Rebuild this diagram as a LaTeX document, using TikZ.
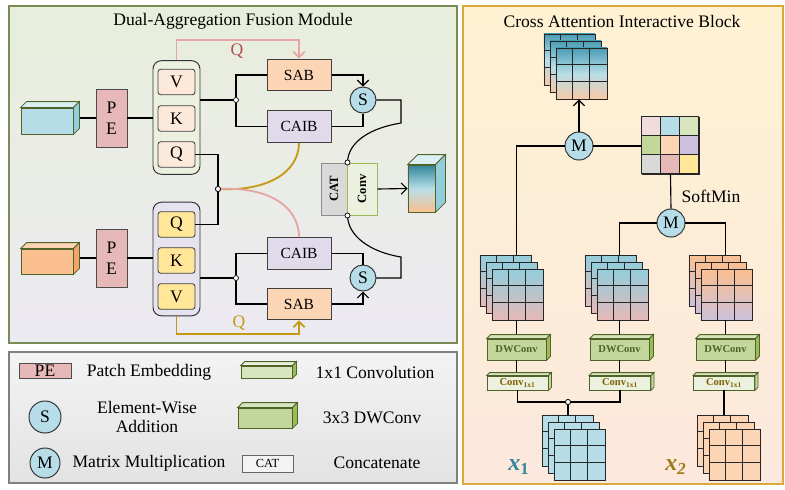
\documentclass[tikz,border=0pt]{standalone}
\usepackage{fontspec}
\setmainfont{Liberation Serif}
\usetikzlibrary{calc,positioning,arrows.meta}
\definecolor{lpTop}{HTML}{E8EEDB}
\definecolor{lpBot}{HTML}{ECEAF2}
\definecolor{lpLine}{HTML}{7A8C55}
\definecolor{rpTop}{HTML}{FEF2D3}
\definecolor{rpBot}{HTML}{FCE8DC}
\definecolor{rpLine}{HTML}{D9AA3A}
\definecolor{lgTop}{HTML}{F3F3F3}
\definecolor{lgBot}{HTML}{E3E3E3}
\definecolor{pefill}{HTML}{E6B9B8}
\definecolor{grpgreen}{HTML}{EBF1DE}
\definecolor{grplav}{HTML}{E6E2EE}
\definecolor{qkvpeach}{HTML}{FDE9D9}
\definecolor{qkvyellow}{HTML}{FFE699}
\definecolor{sabfill}{HTML}{FCD5B5}
\definecolor{caibfill}{HTML}{E0DAEB}
\definecolor{opblue}{HTML}{B7DEE8}
\definecolor{pinkln}{HTML}{E6A6A3}
\definecolor{qred}{HTML}{B0504E}
\definecolor{goldln}{HTML}{C59A12}
\definecolor{catfill}{HTML}{D9D9D9}
\definecolor{convfill}{HTML}{EBF1DE}
\definecolor{convline}{HTML}{9BBB59}
\definecolor{cubeline}{HTML}{4F6228}
\definecolor{cubeblue}{HTML}{B7DEE8}
\definecolor{cbT}{HTML}{DAEEF3}
\definecolor{cbS}{HTML}{92CDDC}
\definecolor{cubeorange}{HTML}{FAC090}
\definecolor{coT}{HTML}{FCD5B5}
\definecolor{coS}{HTML}{F2A56A}
\definecolor{dwfill}{HTML}{C3D69B}
\definecolor{dwT}{HTML}{D7E4BD}
\definecolor{dwS}{HTML}{9BBB59}
\definecolor{cvfill}{HTML}{EBF1DE}
\definecolor{cvT}{HTML}{D7E4BD}
\definecolor{cvS}{HTML}{C3D69B}
\definecolor{dwtext}{HTML}{4F6228}
\definecolor{cvtext}{HTML}{7F6000}
\definecolor{tealD}{HTML}{4A9DB5}
\definecolor{blueL}{HTML}{B7DEE8}
\definecolor{blueM}{HTML}{92CDDC}
\definecolor{peachL}{HTML}{F9C9A6}
\definecolor{peachM}{HTML}{FCD5B5}
\definecolor{pinkM}{HTML}{E6B9B8}
\definecolor{orangeM}{HTML}{FAC090}
\definecolor{lavM}{HTML}{CCC0DA}
\definecolor{greyM}{HTML}{D9D9D9}
\definecolor{greenM}{HTML}{C3D69B}
\definecolor{greenL}{HTML}{D7E4BD}
\definecolor{pinkL}{HTML}{F2DCDB}
\definecolor{yellowM}{HTML}{FFE699}
\definecolor{xone}{HTML}{31859C}
\definecolor{xtwo}{HTML}{9C7A1A}
\begin{document}
\begin{tikzpicture}[x=0.025cm,y=-0.025cm,
  font=\fontsize{12.5}{14}\selectfont,
  line width=0.8pt,
  >={Straight Barb[length=4pt,width=8pt]},
  blk/.style={draw=black!75,line width=0.7pt,minimum width=1.6cm,minimum height=0.79cm,inner sep=0pt,font=\fontsize{11}{13}\selectfont},
  qkv/.style={draw=black!75,line width=0.6pt,rounded corners=2pt,minimum width=0.925cm,minimum height=0.64cm,inner sep=0pt},
  grp/.style={draw=black!80,line width=0.7pt,rounded corners=6pt,minimum width=1.175cm,minimum height=2.84cm},
  pe/.style={draw=black!70,fill=pefill,line width=0.7pt,minimum width=0.775cm,minimum height=1.45cm,align=center,inner sep=0pt,font=\fontsize{12.5}{15}\selectfont},
  op/.style={circle,draw=black!80,fill=opblue,line width=0.7pt,minimum size=0.65cm,inner sep=0pt},
  jn/.style={circle,draw=black,fill=white,line width=0.5pt,minimum size=3.6pt,inner sep=0pt},
  cub/.style={draw=cubeline,line width=0.6pt,inner sep=0pt},
  cell/.style={draw=black!85,line width=0.6pt,minimum size=1.275cm,inner sep=0pt},
  gridln/.style={draw=black!85,line width=0.6pt},
  dwc/.style={cub,fill=dwfill,minimum width=1.475cm,minimum height=0.525cm,font=\fontsize{7.5}{9}\selectfont\bfseries,text=dwtext},
  cvc/.style={cub,fill=cvfill,minimum width=1.525cm,minimum height=0.35cm,font=\fontsize{7.5}{9}\selectfont\bfseries,text=cvtext},
  pinkarr/.style={draw=pinkln,line width=1.3pt},
  goldarr/.style={draw=goldln,line width=1.3pt}]
\useasboundingbox (0,0) rectangle (785,489);
\filldraw[top color=lpTop,bottom color=lpBot,draw=lpLine,line width=1pt] (9,6) rectangle (457,343);
\filldraw[top color=rpTop,bottom color=rpBot,draw=rpLine,line width=1pt] (463,6) rectangle (783,484);
\filldraw[top color=lgTop,bottom color=lgBot,draw=black!50,line width=0.8pt] (9,352) rectangle (457,483);

\node (tA) at (233,21) {Dual-Aggregation Fusion Module};
\node (tB) at (622,21) {Cross Attention Interactive Block};

\node[cub,fill=cubeblue,minimum width=1.3cm,minimum height=0.65cm] (inA) at (47,121) {};
\node[pe] (peA) at (111.5,118) {P\\E};
\node[grp,fill=grpgreen] (grpA) at (176.5,117.5) {};
\node[qkv,fill=qkvpeach] (vA) at (176.5,82) {V};
\node[qkv,fill=qkvpeach] (kA) at (176.5,118.5) {K};
\node[qkv,fill=qkvpeach] (qA) at (176.5,154.5) {Q};
\node[jn] (jA) at (236,100) {};
\node[blk,fill=sabfill] (sabA) at (299,75) {SAB};
\node[blk,fill=caibfill] (caibA) at (299,126.5) {CAIB};
\node[op] (sA) at (363,100) {S};
\coordinate (bendA) at (401,123);

\node[cub,fill=cubeorange,minimum width=1.3cm,minimum height=0.625cm] (inB) at (47,261.5) {};
\node[pe] (peB) at (111.5,258) {P\\E};
\node[grp,fill=grplav] (grpB) at (176.5,259) {};
\node[qkv,fill=qkvyellow] (qB) at (176.5,224.5) {Q};
\node[qkv,fill=qkvyellow] (kB) at (176.5,260.5) {K};
\node[qkv,fill=qkvyellow] (vB) at (176.5,296.5) {V};
\node[jn] (jB) at (236,278) {};
\node[blk,fill=caibfill] (caibB) at (299,253.5) {CAIB};
\node[blk,fill=sabfill] (sabB) at (299,304) {SAB};
\node[op] (sB) at (363,278) {S};
\coordinate (bendB) at (401,257);

\node[draw=black!45,fill=catfill,line width=0.7pt,minimum width=0.65cm,minimum height=1.3cm,inner sep=0pt,font=\fontsize{9}{10}\selectfont\bfseries] (cat) at (334,189) {\rotatebox{90}{CAT}};
\node[draw=convline,fill=convfill,line width=0.7pt,minimum width=0.75cm,minimum height=1.3cm,inner sep=0pt,font=\fontsize{9}{10}\selectfont\bfseries] (cv) at (362,189) {\rotatebox{90}{Conv}};
\node[cub,top color=xone,bottom color=orangeM,middle color=blueL,minimum width=0.675cm,minimum height=1.175cm] (out) at (421.5,188.5) {};
\node[jn] (jM) at (218,189) {};

\draw (inA.east |- peA) -- (peA.west);
\draw (peA.east) -- (peA.east -| grpA.west);
\draw (jA -| grpA.east) -- (jA);
\draw (jA) |- (sabA.west);
\draw (jA) |- (caibA.west);
\draw[->] (sabA.east) -| (sA.north);
\draw (caibA.east) -| (sA.south);
\draw (sA.east) -| (bendA) .. controls (370,128) and (348,142) .. (cat.north east);
\draw[pinkarr,->] (grpA.north) -- ++(0,-20) -| (sabA.north);
\node[text=qred] (qlA) at (237,51) {Q};

\draw (inB.east |- peB) -- (peB.west);
\draw (peB.east) -- (peB.east -| grpB.west);
\draw (jB -| grpB.east) -- (jB);
\draw (jB) |- (caibB.west);
\draw (jB) |- (sabB.west);
\draw (caibB.east) -| (sB.north);
\draw[->] (sabB.east) -| (sB.south);
\draw (sB.east) -| (bendB) .. controls (370,252) and (348,236) .. (cat.south east);
\draw[goldarr,->] (grpB.south) -- ++(0,18) -| (sabB.south);
\node[text=goldln] (qlB) at (239,323) {Q};

\draw (qA.east) -| (jM);
\draw (qB.east) -| (jM);
\draw[goldarr] (jM) .. controls (268,191) and (299,172) .. (caibA.south);
\draw[pinkarr] (jM) .. controls (268,187) and (299,206) .. (caibB.north);
\node[jn] (jM) at (218,189) {};
\node[jn] (catT) at (cat.north east) {};
\node[jn] (catB) at (cat.south east) {};
\draw[->] (cv.east) -- (out.west);

\node[draw=black!70,fill=pefill,line width=0.7pt,minimum width=1.3cm,minimum height=0.375cm,inner sep=0pt] (lgPE) at (45,370.5) {PE};
\node (lgPEt) at (149,372) {Patch Embedding};
\node[cub,fill=dwT,minimum width=1.275cm,minimum height=0.3cm] (lg1) at (266.5,372) {};
\node (lg1t) at (375,372) {1x1 Convolution};
\node[op,minimum size=0.8cm] (lgS) at (45,417) {S};
\node[align=center] (lgSt) at (147,417) {Element-Wise\\Addition};
\node[cub,fill=dwfill,minimum width=1.35cm,minimum height=0.5cm] (lg3) at (265,418) {};
\node (lg3t) at (372,418) {3x3 DWConv};
\node[op,minimum size=0.75cm] (lgM) at (45,463) {M};
\node (lgMt) at (149,463) {Matrix Multiplication};
\node[draw=black!60,fill=lgTop,line width=0.7pt,minimum width=1.275cm,minimum height=0.425cm,inner sep=0pt,font=\fontsize{8.8}{10}\selectfont] (lgC) at (267.5,463.5) {CAT};
\node (lgCt) at (377,463) {Concatenate};

\foreach \nm/\gx/\gy/\ct/\cb/\cm in {go/556/48/tealD/peachL/blueL, ga/492/269/blueM/pinkM/blueM!50!pinkM, gb/597/269/blueM/pinkM/blueM!50!pinkM, gc/701/269/orangeM/lavM/orangeM!50!lavM, gx/554/429/blueL/blueL/blueL, gy/709/429/peachM/peachM/peachM}
  \foreach \k in {2,1,0}
  {
    \node[cell,top color=\ct,bottom color=\cb,middle color=\cm] (\nm\k) at (\gx+25.5-6*\k,\gy+25.5-7*\k) {};
    \foreach \i in {1,2}
    {
      \draw[gridln] ($(\nm\k.north west)+(17*\i,0)$) -- ($(\nm\k.south west)+(17*\i,0)$);
      \draw[gridln] ($(\nm\k.north west)+(0,17*\i)$) -- ($(\nm\k.north east)+(0,17*\i)$);
    }
  }

\node[draw=black!85,line width=0.7pt,minimum size=1.425cm,inner sep=0pt] (att) at (670.5,145.5) {};
\foreach \cc/\rr/\cl in {0/0/pinkL,1/0/blueL,2/0/greenL,0/1/greenM,1/1/peachM,2/1/lavM,0/2/greyM,1/2/pinkM,2/2/yellowM}
  \filldraw[fill=\cl,draw=black!85,line width=0.6pt] ($(att.north west)+(19*\cc,19*\rr)$) rectangle +(19,19);
\node[op,minimum size=0.7cm] (m1) at (579,146) {M};
\node[op,minimum size=0.7cm] (m2) at (671,223) {M};
\node (sm) at (711,196) {SoftMin};

\node[dwc] (dw1) at (516.5,349.5) {DWConv};
\node[dwc] (dw2) at (619.5,349.5) {DWConv};
\node[dwc] (dw3) at (725.5,349.5) {DWConv};
\node[cvc] (c1) at (517.5,383) {Conv\textsubscript{1x1}};
\node[cvc] (c2) at (620,383) {Conv\textsubscript{1x1}};
\node[cvc] (c3) at (724,383) {Conv\textsubscript{1x1}};
\node[jn] (jX) at (568,402) {};

\draw[->] (m1.north) -- (m1.north |- go0.south);
\draw (m1.east) -- (m1.east -| att.west);
\draw (m1.west) -| (dw1 |- ga2.north);
\draw (att.south) -- (m2.north);
\draw (m2.west) -| (dw2 |- gb2.north);
\draw (m2.east) -| (dw3 |- gc2.north);
\draw (dw1 |- ga0.south) -- (dw1.north);
\draw (dw2 |- gb0.south) -- (dw2.north);
\draw (dw3 |- gc0.south) -- (dw3.north);
\draw (dw1.south) -- (dw1.south |- c1.north);
\draw (dw2.south) -- (dw2.south |- c2.north);
\draw (dw3.south) -- (dw3.south |- c3.north);
\draw (c1.south) |- (jX);
\draw (c2.south) |- (jX);
\draw (jX) -- (jX |- gx2.north);
\draw (c3.south) -- (c3.south |- gy2.north);
\node[jn] (jX) at (568,402) {};

\node[text=xone,font=\fontsize{17}{20}\selectfont\bfseries] (x1) at (519,467) {\textit{x}\textsubscript{1}};
\node[text=xtwo,font=\fontsize{17}{20}\selectfont\bfseries] (x2) at (676,467) {\textit{x}\textsubscript{\textit{2}}};

\foreach \n/\d/\ct/\cs in {inA/6/cbT/cbS, inB/6/coT/coS, out/10/cbT/cbS, lg1/4/cvfill/dwS, lg3/5/dwT/dwS, dw1/4/dwT/dwS, dw2/4/dwT/dwS, dw3/4/dwT/dwS, c1/3/cvT/cvS, c2/3/cvT/cvS, c3/3/cvT/cvS}
{
  \filldraw[fill=\ct,draw=cubeline,line width=0.6pt] (\n.north west) -- ++(\d,-\d) -- ($(\n.north east)+(\d,-\d)$) -- (\n.north east) -- cycle;
  \filldraw[fill=\cs,draw=cubeline,line width=0.6pt] (\n.north east) -- ++(\d,-\d) -- ($(\n.south east)+(\d,-\d)$) -- (\n.south east) -- cycle;
}
\end{tikzpicture}
\end{document}
